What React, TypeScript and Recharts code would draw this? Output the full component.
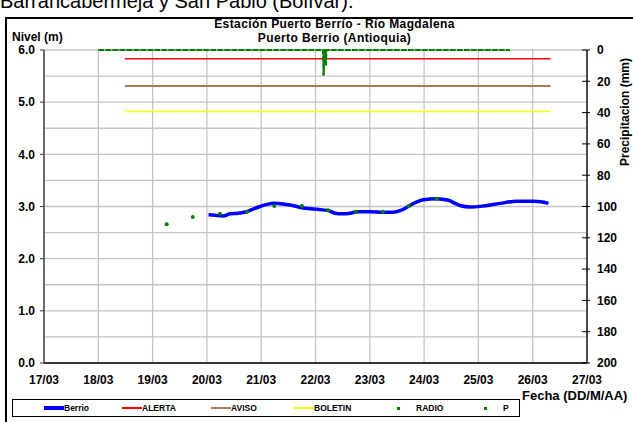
import React from 'react';
import { ComposedChart, Line, XAxis, YAxis, CartesianGrid } from 'recharts';

// ---------- data ----------
const dayTicks = [0, 1, 2, 3, 4, 5, 6, 7, 8, 9, 10];
const dayLabels = ['17/03', '18/03', '19/03', '20/03', '21/03', '22/03', '23/03', '24/03', '25/03', '26/03', '27/03'];
const levelTicks = [0, 1, 2, 3, 4, 5, 6];
const levelGridValues = [0, 0.5, 1, 1.5, 2, 2.5, 3, 3.5, 4, 4.5, 5, 5.5, 6];
const precipTicks = [0, 20, 40, 60, 80, 100, 120, 140, 160, 180, 200];

// days since 17/03 00:00
const berrioTimes = [3.03, 3.15, 3.3, 3.43, 3.57, 3.73, 3.85, 3.98, 4.11, 4.25, 4.4, 4.53, 4.78, 5.08, 5.24, 5.36, 5.49, 5.64, 5.76, 6.0, 6.25, 6.43, 6.56, 6.74, 6.89, 6.99, 7.23, 7.45, 7.57, 7.66, 7.85, 8.09, 8.4, 8.71, 9.01, 9.15, 9.29];
const berrioLevels = [2.84, 2.83, 2.82, 2.86, 2.87, 2.9, 2.95, 3.0, 3.04, 3.06, 3.05, 3.03, 2.97, 2.94, 2.92, 2.87, 2.86, 2.87, 2.9, 2.9, 2.89, 2.89, 2.92, 3.02, 3.1, 3.13, 3.15, 3.12, 3.06, 3.02, 2.99, 3.01, 3.06, 3.1, 3.1, 3.09, 3.06];

const radioTimes = [2.26, 2.74, 3.24, 3.74, 4.24, 4.75, 5.23, 5.74, 6.24, 6.72, 7.23];
const radioLevels = [2.66, 2.8, 2.86, 2.9, 3.01, 3.01, 2.93, 2.9, 2.9, 3.01, 3.15];

const thresholdTimes = [1.49, 9.33];
const alertaLevel = 5.83;
const avisoLevel = 5.31;
const boletinLevel = 4.82;

const pTimes = [1.0, 2.0, 3.0, 4.0, 5.0, 5.14, 5.15, 5.16, 5.18, 5.19, 5.2, 6.0, 7.0, 8.0, 8.58];
const pValues = [0, 0, 0, 0, 0, 0, 15.6, 0, 0, 9.2, 0, 0, 0, 0, 0];

const titleLines = ['Estación Puerto Berrío - Río Magdalena', 'Puerto Berrio (Antioquia)'];

// ---------- tables ----------
const berrioData = berrioTimes.map((t, i) => ({ t, v: berrioLevels[i] }));
const radioData = radioTimes.map((t, i) => ({ t, v: radioLevels[i] }));
const alertaData = thresholdTimes.map((t) => ({ t, v: alertaLevel }));
const avisoData = thresholdTimes.map((t) => ({ t, v: avisoLevel }));
const boletinData = thresholdTimes.map((t) => ({ t, v: boletinLevel }));
const pData = pTimes.map((t, i) => ({ t, p: pValues[i] }));

const legendItems = [
  { name: 'Berrio', color: '#0000ff', kind: 'line', w: 3.5, left: 31 },
  { name: 'ALERTA', color: '#ff0000', kind: 'line', w: 2, left: 109 },
  { name: 'AVISO', color: '#a87c58', kind: 'line', w: 2, left: 198 },
  { name: 'BOLETIN', color: '#ffff00', kind: 'line', w: 2, left: 281 },
  { name: 'RADIO', color: '#008000', kind: 'dot', w: 3, left: 375 },
  { name: 'P', color: '#008000', kind: 'dot', w: 3, left: 462 },
];

const FONT = 'Arial, "Liberation Sans", sans-serif';

const RightTick = (props: any) => {
  const { x, y, payload } = props;
  const axisX = x - 10;
  return (
    <g>
      <line x1={axisX - 5} x2={axisX + 3} y1={y} y2={y} stroke="#000" strokeWidth={1} />
      <text x={x} y={y} dy="0.36em" textAnchor="start" fontSize={12} fontWeight="bold" fill="#000" fontFamily={FONT}>
        {payload.value}
      </text>
    </g>
  );
};

const PDot = (props: any) => {
  const { cx, cy, payload } = props;
  if (!payload || !payload.p) return <g />;
  return <rect x={cx - 1.2} y={cy - 1.2} width={2.4} height={2.4} fill="#008000" />;
};

export default function App() {
  return (
    <div style={{ position: 'absolute', left: 0, top: 0, width: 633, height: 422, overflow: 'hidden', background: '#fff', fontFamily: FONT }}>
      <div style={{ position: 'absolute', left: 0, top: -10, fontSize: 20, whiteSpace: 'nowrap', color: '#000' }}>
        Barrancabermeja y San Pablo (Bolívar).
      </div>
      <div style={{ position: 'absolute', left: 5, top: 17, width: 700, height: 500, border: '2px solid #000', boxSizing: 'border-box' }} />
      <div style={{ position: 'absolute', left: 0, top: 0 }}>
        <ComposedChart width={633} height={422} margin={{ top: 50, right: 0, bottom: 29, left: 4 }}>
          <CartesianGrid
            yAxisId="left"
            stroke="#c4c4c4"
            strokeWidth={1.3}
            horizontalValues={levelGridValues}
            verticalValues={dayTicks}
          />
          <XAxis
            type="number"
            dataKey="t"
            domain={[0, 10]}
            ticks={dayTicks}
            tickFormatter={(v: number) => dayLabels[v]}
            allowDataOverflow
            height={30}
            tickLine={false}
            tickMargin={6}
            axisLine={{ stroke: '#000', strokeWidth: 1.3 }}
            tick={{ fontSize: 12, fontWeight: 'bold', fill: '#000' }}
            interval={0}
          />
          <YAxis
            yAxisId="left"
            type="number"
            domain={[0, 6]}
            ticks={levelTicks}
            tickFormatter={(v: number) => v.toFixed(1)}
            width={40}
            tickSize={4}
            tickMargin={5}
            axisLine={{ stroke: '#333', strokeWidth: 1.3 }}
            tickLine={{ stroke: '#333' }}
            tick={{ fontSize: 12, fontWeight: 'bold', fill: '#000' }}
            interval={0}
          />
          <YAxis
            yAxisId="right"
            orientation="right"
            type="number"
            domain={[0, 200]}
            reversed
            ticks={precipTicks}
            width={46}
            tickSize={3}
            tickMargin={7}
            tickLine={false}
            axisLine={{ stroke: '#000', strokeWidth: 1.3 }}
            tick={<RightTick />}
            interval={0}
          />
          <Line yAxisId="left" data={alertaData} dataKey="v" stroke="#ff0000" strokeWidth={1.5} dot={false} activeDot={false} isAnimationActive={false} />
          <Line yAxisId="left" data={avisoData} dataKey="v" stroke="#a87c58" strokeWidth={2} dot={false} activeDot={false} isAnimationActive={false} />
          <Line yAxisId="left" data={boletinData} dataKey="v" stroke="#ffff00" strokeWidth={1.5} dot={false} activeDot={false} isAnimationActive={false} />
          <Line yAxisId="right" data={pData} dataKey="p" type="linear" stroke="#008000" strokeWidth={2.2} strokeDasharray="6 1" dot={<PDot />} activeDot={false} isAnimationActive={false} />
          <Line yAxisId="left" data={berrioData} dataKey="v" type="monotone" stroke="#0000ff" strokeWidth={3.5} dot={false} activeDot={false} isAnimationActive={false} />
          <Line yAxisId="left" data={radioData} dataKey="v" stroke="none" dot={{ r: 2, fill: '#008000', stroke: 'none' }} activeDot={false} isAnimationActive={false} />
        </ComposedChart>
      </div>
      {titleLines.map((line, i) => (
        <div
          key={line}
          style={{
            position: 'absolute', left: 0, width: 669, top: 17 + i * 14, height: 14, textAlign: 'center',
            fontSize: 12, letterSpacing: 0.4, fontWeight: 'bold', lineHeight: '14px', color: '#000', whiteSpace: 'nowrap',
          }}
        >
          {line}
        </div>
      ))}
      <div style={{ position: 'absolute', left: 12, top: 30, fontSize: 12, fontWeight: 'bold', color: '#000', whiteSpace: 'nowrap' }}>Nivel (m)</div>
      <div style={{ position: 'absolute', left: 522, top: 388, fontSize: 13, fontWeight: 'bold', color: '#000', whiteSpace: 'nowrap' }}>Fecha (DD/M/AA)</div>
      <div
        style={{
          position: 'absolute', left: 625, top: 112, transform: 'translate(-50%, -50%) rotate(-90deg)',
          fontSize: 12, fontWeight: 'bold', color: '#000', whiteSpace: 'nowrap',
        }}
      >
        Precipitacion (mm)
      </div>
      <div style={{ position: 'absolute', left: 12, top: 399, width: 508, height: 18, border: '1px solid #000', boxSizing: 'border-box', background: '#fff' }}>
        {legendItems.map((it) => (
          <div key={it.name} style={{ position: 'absolute', left: it.left, top: 0, height: 16, display: 'flex', alignItems: 'center', whiteSpace: 'nowrap' }}>
            {it.kind === 'line' ? (
              <div style={{ width: 20, height: it.w, background: it.color }} />
            ) : (
              <div style={{ width: 20, display: 'flex', justifyContent: 'center' }}>
                <div style={{ width: it.w, height: it.w, background: it.color }} />
              </div>
            )}
            <span style={{ fontSize: 8.5, fontWeight: 'bold', color: '#000', marginLeft: it.kind === 'line' ? 0 : 8 }}>{it.name}</span>
          </div>
        ))}
      </div>
    </div>
  );
}
